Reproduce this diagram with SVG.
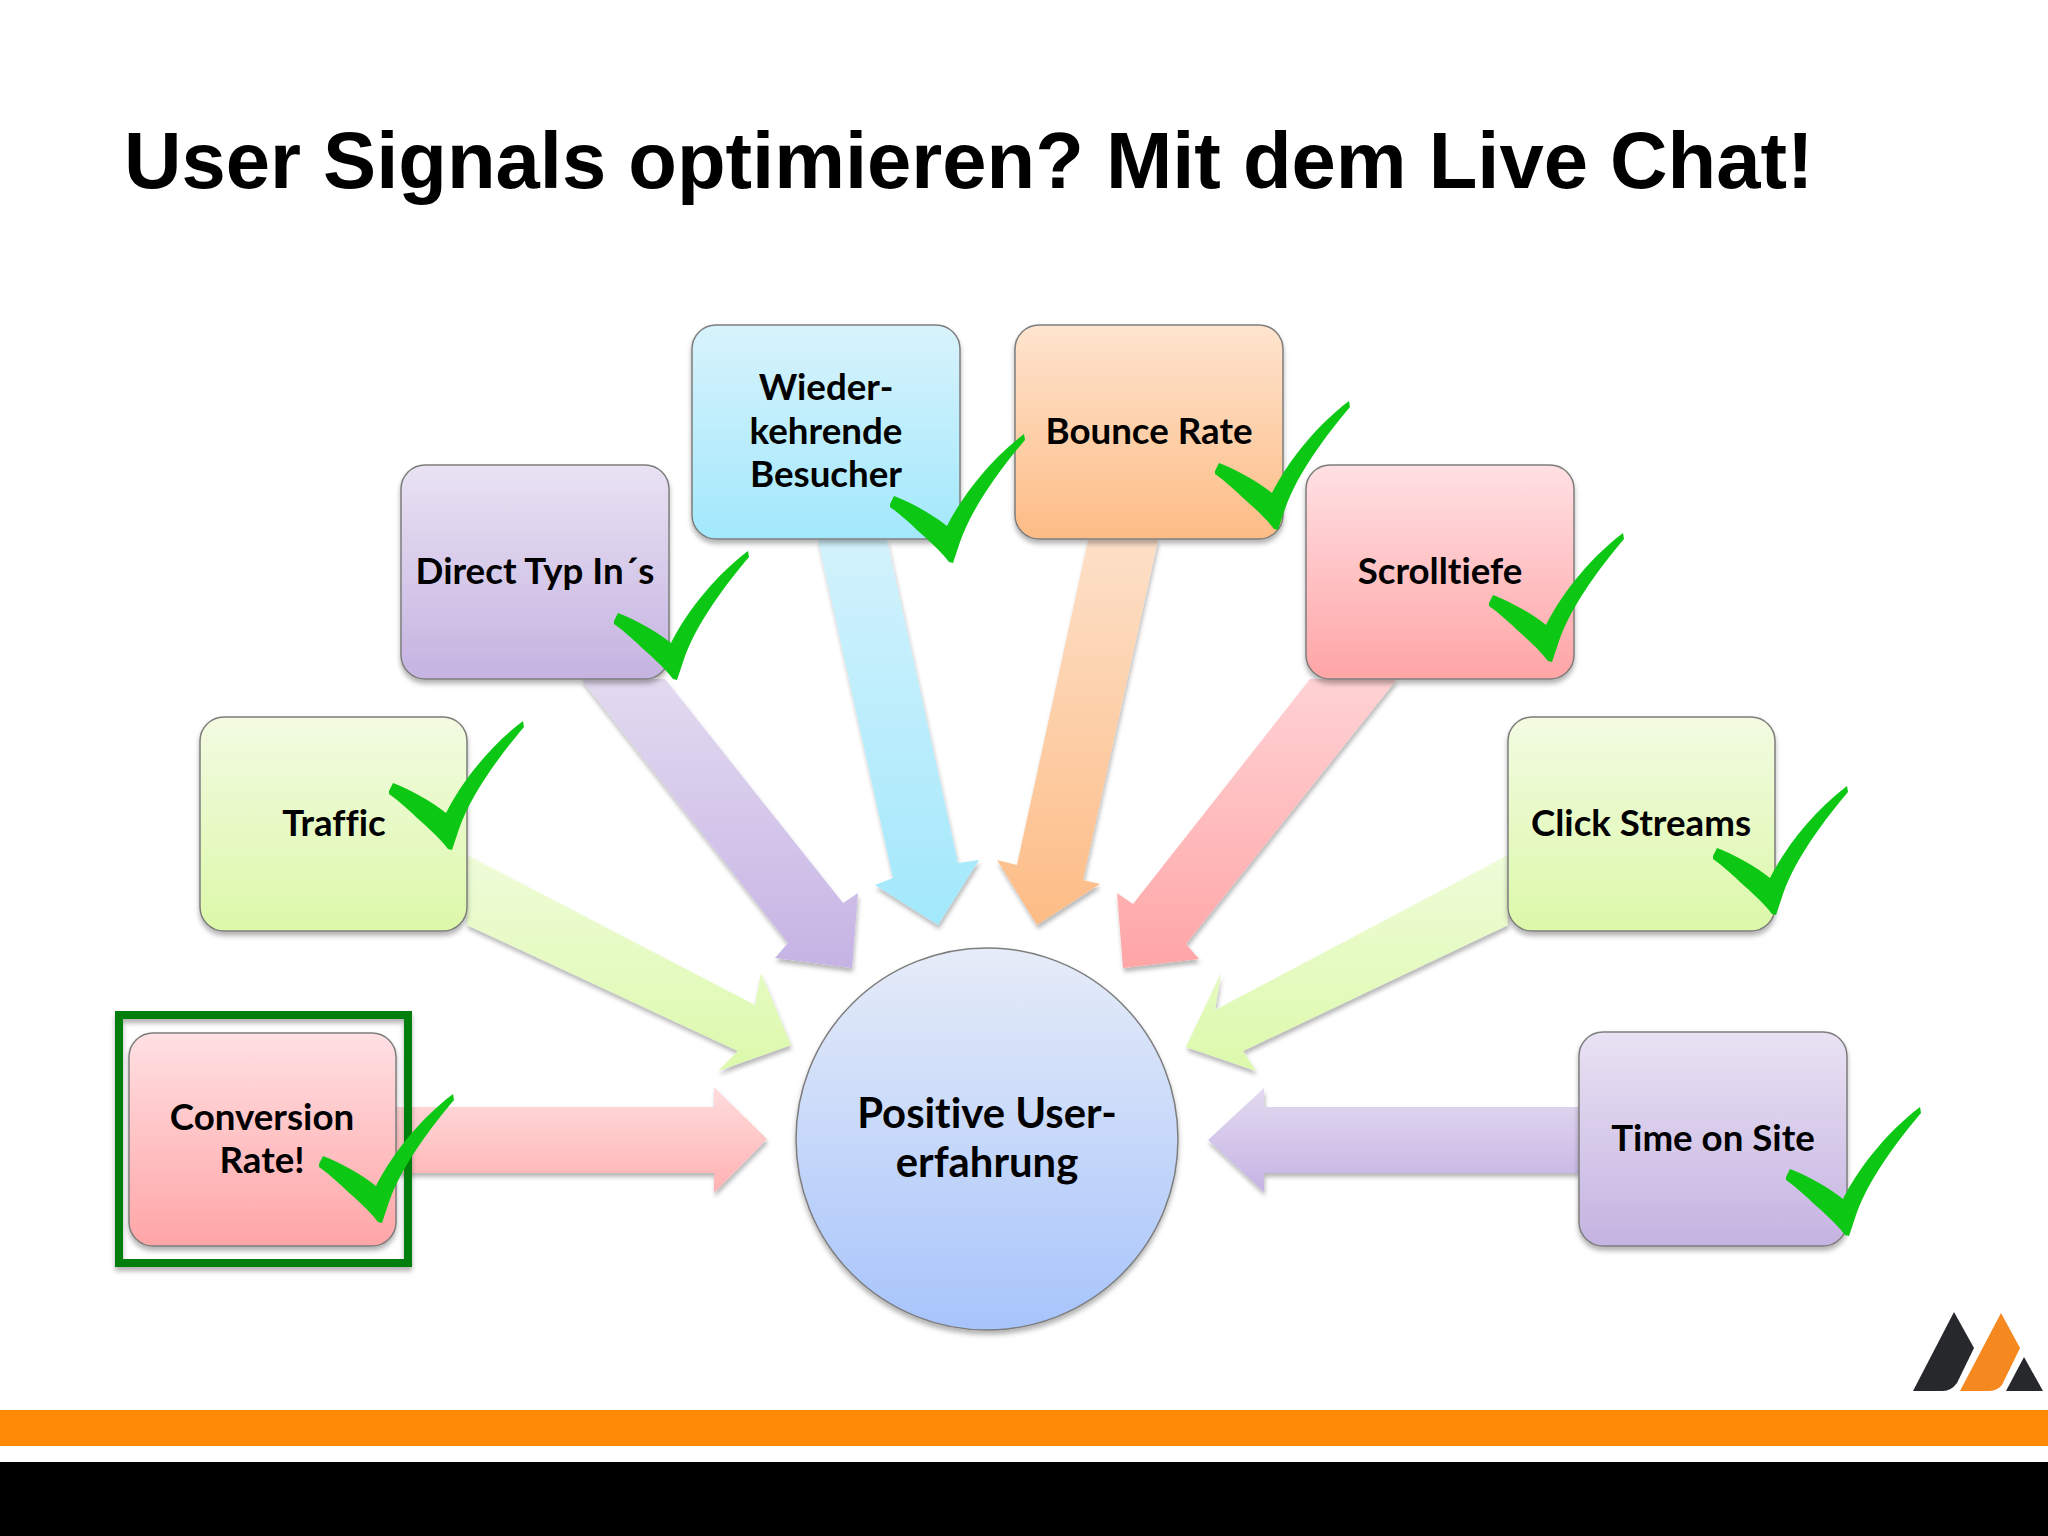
<svg xmlns="http://www.w3.org/2000/svg" xmlns:xlink="http://www.w3.org/1999/xlink" width="2048" height="1536" viewBox="0 0 2048 1536">
<style>
.lbl{font-family:"Lato","Liberation Sans",sans-serif;font-weight:700;font-size:36.7px;fill:#000;text-anchor:middle;font-variant-ligatures:none}
.big{font-size:41.8px}
.box{stroke:#7d7d7d;stroke-width:1.5;filter:url(#sh)}
.arr{filter:url(#sh2)}
.chk{fill:#0cc814}
</style>
<defs>
<filter id="sh" x="-10%" y="-10%" width="120%" height="120%"><feDropShadow dx="0" dy="4" stdDeviation="2.5" flood-color="#000" flood-opacity=".3"/></filter>
<filter id="sh2" x="-10%" y="-10%" width="120%" height="120%"><feDropShadow dx="1" dy="4" stdDeviation="2" flood-color="#000" flood-opacity=".28"/></filter>
<linearGradient id="gPink" x1="0" y1="0" x2="0" y2="1"><stop offset="0" stop-color="#ffe0e3"/><stop offset="1" stop-color="#ffa5a6"/></linearGradient>
<linearGradient id="gPurple" x1="0" y1="0" x2="0" y2="1"><stop offset="0" stop-color="#e9e2f3"/><stop offset="1" stop-color="#c5b3e1"/></linearGradient>
<linearGradient id="gBlue" x1="0" y1="0" x2="0" y2="1"><stop offset="0" stop-color="#d8f3fc"/><stop offset="1" stop-color="#a2e8fc"/></linearGradient>
<linearGradient id="gOrange" x1="0" y1="0" x2="0" y2="1"><stop offset="0" stop-color="#fee4cf"/><stop offset="1" stop-color="#fdbc85"/></linearGradient>
<linearGradient id="gGreen" x1="0" y1="0" x2="0" y2="1"><stop offset="0" stop-color="#f3fbe2"/><stop offset="1" stop-color="#dcf8a9"/></linearGradient>
<linearGradient id="gCircle" x1="0" y1="0" x2="0" y2="1"><stop offset="0" stop-color="#e6ecf8"/><stop offset="1" stop-color="#a7c4fb"/></linearGradient>
<linearGradient id="aPink" x1="0" y1="0" x2="0" y2="1"><stop offset="0" stop-color="#ffd2d4"/><stop offset="1" stop-color="#ffa5a6"/></linearGradient>
<linearGradient id="aPinkH" x1="0" y1="0" x2="0" y2="1"><stop offset="0" stop-color="#ffdcdd"/><stop offset="1" stop-color="#ffb2b3"/></linearGradient>
<linearGradient id="aPurple" x1="0" y1="0" x2="0" y2="1"><stop offset="0" stop-color="#e3daf0"/><stop offset="1" stop-color="#c5b3e4"/></linearGradient>
<linearGradient id="aBlue" x1="0" y1="0" x2="0" y2="1"><stop offset="0" stop-color="#d2f2fc"/><stop offset="1" stop-color="#a2e8fc"/></linearGradient>
<linearGradient id="aOrange" x1="0" y1="0" x2="0" y2="1"><stop offset="0" stop-color="#fde0c8"/><stop offset="1" stop-color="#fdbc85"/></linearGradient>
<linearGradient id="aGreen" x1="0" y1="0" x2="0" y2="1"><stop offset="0" stop-color="#effcd9"/><stop offset="1" stop-color="#dcf9ab"/></linearGradient>
<path id="check" class="chk" d="M-62,-58 L-58,-66 C-42,-60 -20,-48 -5,-36 C8,-62 35,-100 72,-128 L73,-122 C50,-95 20,-55 8,-20 L1,1 L-3,0 C-12,-12 -25,-23 -35,-32 C-45,-42 -55,-50 -62,-55 Z"/>
</defs>
<rect width="2048" height="1536" fill="#fff"/>
<text id="title" x="124" y="188" font-family="Liberation Sans, Arial, sans-serif" font-weight="700" font-size="79.6" fill="#000">User Signals optimieren? Mit dem Live Chat!</text>
<g id="connectors">
<polygon class="arr" fill="url(#aPinkH)" points="396,1107 714,1107 714,1087 767,1139 714,1193 714,1173 396,1173"/>
<polygon class="arr" fill="url(#aGreen)" points="467,855 755,1005 761,973 791,1045 718,1071 738,1051 467,925"/>
<polygon class="arr" fill="url(#aPurple)" points="581,679 665,679 843,903 858,893 852,968 775,958 788,943"/>
<polygon class="arr" fill="url(#aBlue)" points="818,540 887,540 958,863 979,860 938,925 875,885 893,878"/>
<polygon class="arr" fill="url(#aOrange)" points="1088,540 1158,540 1083,880 1100,884 1037,925 997,860 1017,865"/>
<polygon class="arr" fill="url(#aPink)" points="1310,679 1397,679 1186,944 1199,959 1123,968 1117,893 1133,904"/>
<polygon class="arr" fill="url(#aGreen)" points="1508,855 1508,925 1243,1051 1256,1071 1186,1047 1221,973 1215,1010"/>
<polygon class="arr" fill="url(#aPurple)" points="1579,1107 1264,1107 1264,1088 1208,1140 1264,1192 1264,1173 1579,1173"/>
</g>
<g id="node-conversion">
<rect class="box" x="129" y="1033" width="267" height="213" rx="24" fill="url(#gPink)"/>
<text class="lbl" x="262" y="1130">Conversion</text><text class="lbl" x="262" y="1173">Rate!</text>
</g>
<rect id="highlight" x="119" y="1015" width="289" height="248" fill="none" stroke="#007f0e" stroke-width="8" filter="url(#sh)"/>
<g id="node-traffic">
<rect class="box" x="200" y="717" width="267" height="214" rx="24" fill="url(#gGreen)"/>
<text class="lbl" x="334" y="836">Traffic</text>
</g>
<g id="node-direct">
<rect class="box" x="401" y="465" width="268" height="214" rx="24" fill="url(#gPurple)"/>
<text class="lbl" x="535" y="584">Direct Typ In´s</text>
</g>
<g id="node-wieder">
<rect class="box" x="692" y="325" width="268" height="214" rx="24" fill="url(#gBlue)"/>
<text class="lbl" x="826" y="400">Wieder-</text><text class="lbl" x="826" y="444">kehrende</text><text class="lbl" x="826" y="487">Besucher</text>
</g>
<g id="node-bounce">
<rect class="box" x="1015" y="325" width="268" height="214" rx="24" fill="url(#gOrange)"/>
<text class="lbl" x="1149" y="444">Bounce Rate</text>
</g>
<g id="node-scroll">
<rect class="box" x="1306" y="465" width="268" height="214" rx="24" fill="url(#gPink)"/>
<text class="lbl" x="1440" y="584">Scrolltiefe</text>
</g>
<g id="node-click">
<rect class="box" x="1508" y="717" width="267" height="214" rx="24" fill="url(#gGreen)"/>
<text class="lbl" x="1641" y="836">Click Streams</text>
</g>
<g id="node-time">
<rect class="box" x="1579" y="1032" width="268" height="214" rx="24" fill="url(#gPurple)"/>
<text class="lbl" x="1713" y="1151">Time on Site</text>
</g>
<g id="node-center">
<circle class="box" cx="987" cy="1139" r="191" fill="url(#gCircle)"/>
<text class="lbl big" x="987" y="1128">Positive User-</text><text class="lbl big" x="987" y="1177">erfahrung</text>
</g>
<g id="checks">
<use xlink:href="#check" href="#check" x="381" y="1222"/>
<use xlink:href="#check" href="#check" x="451" y="849"/>
<use xlink:href="#check" href="#check" x="676" y="679"/>
<use xlink:href="#check" href="#check" x="952" y="562"/>
<use xlink:href="#check" href="#check" x="1277" y="529"/>
<use xlink:href="#check" href="#check" x="1551" y="661"/>
<use xlink:href="#check" href="#check" x="1775" y="914"/>
<use xlink:href="#check" href="#check" x="1848" y="1235"/>
</g>
<g id="logo">
<path fill="#26282b" d="M1913,1391 L1954,1312 L1974,1348 L1957,1383 Q1951,1391 1943,1391 Z"/>
<path fill="#f5881f" d="M1960,1391 L2001,1313 L2020,1348 L2002,1385 Q1997,1391 1988,1391 Z"/>
<path fill="#26282b" d="M2006,1391 L2024,1357 L2043,1391 Z"/>
</g>
<rect id="bar-orange" x="0" y="1410" width="2048" height="36" fill="#ff8a05"/>
<rect id="bar-black" x="0" y="1462" width="2048" height="74" fill="#000"/>
</svg>
